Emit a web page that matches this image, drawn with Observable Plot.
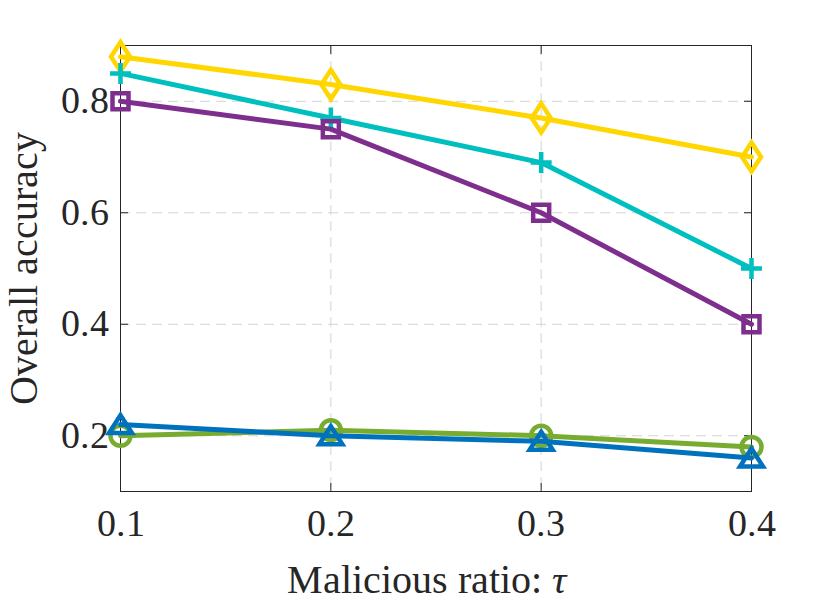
<!DOCTYPE html>
<html>
<head>
<meta charset="utf-8">
<script src="https://cdn.jsdelivr.net/npm/d3@7"></script>
<script src="https://cdn.jsdelivr.net/npm/@observablehq/plot@0.6"></script>
<style>
  @font-face { font-family: "ChartSerif"; src: local("Liberation Serif"), local("LiberationSerif"), local("LiberationSerif-Regular"); font-style: normal; }
  @font-face { font-family: "ChartSerif"; src: local("Liberation Serif Italic"), local("LiberationSerif-Italic"); font-style: italic; }
  html, body { margin: 0; padding: 0; background: #fff; font-family: "Liberation Serif", serif; }
  svg text, svg tspan { font-family: "ChartSerif", "Liberation Serif", "DejaVu Serif", serif !important; }
</style>
</head>
<body>
<div id="chart"></div>
<script>
// ---- data ----
const ratios = [0.1, 0.2, 0.3, 0.4];
const xTicks = [0.1, 0.2, 0.3, 0.4];
const yTicks = [0.2, 0.4, 0.6, 0.8];
const seriesDiamond = [0.88, 0.83, 0.77, 0.70];
const seriesPlus    = [0.85, 0.77, 0.69, 0.50];
const seriesSquare  = [0.80, 0.75, 0.60, 0.40];
const seriesCircle  = [0.20, 0.21, 0.20, 0.18];
const seriesTriangle= [0.22, 0.20, 0.19, 0.16];

// ---- custom MATLAB-like marker symbols ----
const R = (size) => Math.sqrt(size / Math.PI);
const symDiamond = {draw(c, s) { const r = R(s); const w = 0.95 * r, h = 1.45 * r;
  c.moveTo(0, -h); c.lineTo(w, 0); c.lineTo(0, h); c.lineTo(-w, 0); c.closePath(); }};
const symSquare = {draw(c, s) { const r = R(s) * 0.8;
  c.moveTo(-r, -r); c.lineTo(r, -r); c.lineTo(r, r); c.lineTo(-r, r); c.closePath(); }};
const symPlus = {draw(c, s) { const r = R(s) * 1.05;
  c.moveTo(-r, 0); c.lineTo(r, 0); c.moveTo(0, -r); c.lineTo(0, r); }};
const symCircle = {draw(c, s) { const r = R(s);
  c.moveTo(r, 0); c.arc(0, 0, r, 0, 2 * Math.PI); c.closePath(); }};
const symTriangle = {draw(c, s) { const r = R(s);
  c.moveTo(0, -0.95 * r); c.lineTo(1.15 * r, 0.85 * r); c.lineTo(-1.15 * r, 0.85 * r); c.closePath(); }};

const series = [
  {values: seriesDiamond,  color: "#FFD600", symbol: symDiamond},
  {values: seriesPlus,     color: "#00BFBF", symbol: symPlus},
  {values: seriesSquare,   color: "#7E2F8E", symbol: symSquare},
  {values: seriesCircle,   color: "#77AC30", symbol: symCircle},
  {values: seriesTriangle, color: "#0072BD", symbol: symTriangle}
];

const FONT = "Liberation Serif";
const marks = [
  Plot.gridX(xTicks, {stroke: "#d4d4d4", strokeOpacity: 1, strokeWidth: 1, strokeDasharray: "10,6"}),
  Plot.gridY(yTicks, {stroke: "#d4d4d4", strokeOpacity: 1, strokeWidth: 1, strokeDasharray: "10,6"}),
  Plot.axisX(xTicks, {anchor: "bottom", tickSize: -8, tickPadding: 26, tickFormat: d3.format(".1f"), fontVariant: "normal",
    label: "Malicious ratio: τ", labelAnchor: "center", labelArrow: "none", labelOffset: 101, fontSize: 38, fontFamily: FONT}),
  Plot.axisX(xTicks, {anchor: "top", tickSize: -8, tickFormat: () => "", label: null}),
  Plot.axisY(yTicks, {anchor: "left", tickSize: -8, tickPadding: 20, tickFormat: d3.format(".1f"), fontVariant: "normal",
    label: "Overall accuracy", labelAnchor: "center", labelArrow: "none", labelOffset: 112, fontSize: 38, fontFamily: FONT}),
  Plot.axisY(yTicks, {anchor: "right", tickSize: -8, tickFormat: () => "", label: null}),
  Plot.frame({stroke: "#262626", strokeWidth: 1})
];

for (const s of series) {
  const rows = ratios.map((x, i) => ({x, y: s.values[i]}));
  marks.push(Plot.line(rows, {x: "x", y: "y", stroke: s.color, strokeWidth: 5}));
  marks.push(Plot.dot(rows, {x: "x", y: "y", stroke: s.color, strokeWidth: 4.5, fill: "none", r: 10, symbol: s.symbol}));
}

const chart = Plot.plot({
  width: 830,
  height: 603,
  marginLeft: 120,
  marginRight: 79,
  marginTop: 45,
  marginBottom: 112,
  style: {fontSize: "38px", color: "#262626", background: "#fff"},
  x: {domain: [0.1, 0.4]},
  y: {domain: [0.1, 0.9]},
  marks
});

chart.setAttribute("font-family", FONT);
chart.querySelectorAll("g, text").forEach(t => t.setAttribute("font-family", FONT));
// label styling: larger font and italic tau
chart.querySelectorAll('[aria-label="x-axis label"] text, [aria-label="y-axis label"] text').forEach(t => t.setAttribute("font-size", 40));
const xl = chart.querySelector('[aria-label="x-axis label"] text');
if (xl) {
  xl.setAttribute("dx", -10);
  xl.textContent = "Malicious ratio: ";
  const ts = document.createElementNS("http://www.w3.org/2000/svg", "tspan");
  ts.setAttribute("font-style", "italic");
  ts.textContent = "τ";
  xl.appendChild(ts);
}
document.getElementById("chart").appendChild(chart);
</script>
</body>
</html>
